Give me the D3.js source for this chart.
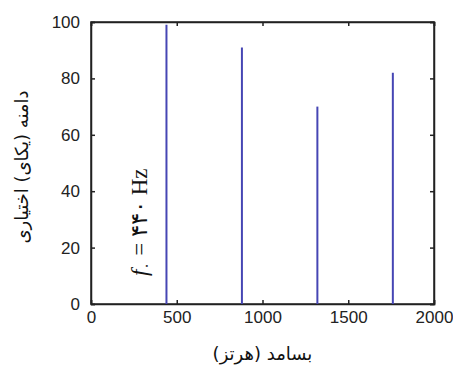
<!DOCTYPE html>
<html>
<head>
<meta charset="utf-8">
<script src="https://cdn.jsdelivr.net/npm/d3@7"></script>
<style>
  body { margin: 0; background: #fff; }
  svg { display: block; }
  .tick text { font-family: "Liberation Sans", Arial, sans-serif; font-size: 17px; fill: #222; }
  .fa { font-family: "DejaVu Sans", sans-serif; fill: #111; }
</style>
</head>
<body>
<div id="chart"></div>
<script>
// harmonics of a 440 Hz tone
const freqs = [440, 880, 1320, 1760];
const amps = [99, 91, 70, 82];
const xTicks = [0, 500, 1000, 1500, 2000];
const yTicks = [0, 20, 40, 60, 80, 100];
const xLabel = "بسامد (هرتز)";
const yLabel = "دامنه (یکای) اختیاری";

const W = 453, H = 369;
const margin = { top: 22, right: 19, bottom: 65, left: 91 };
const width = W - margin.left - margin.right,
  height = H - margin.top - margin.bottom;

const svg = d3.select("#chart").append("svg")
  .attr("width", W).attr("height", H);

const g = svg.append("g")
  .attr("transform", "translate(" + margin.left + "," + margin.top + ")");

const x = d3.scaleLinear().domain([0, 2000]).range([0, width]);
const y = d3.scaleLinear().domain([0, 100]).range([height, 0]);

// matlab style: ticks inside on all four sides
const xAxis = g.append("g")
  .attr("transform", "translate(0," + height + ")")
  .call(d3.axisBottom(x).tickValues(xTicks).tickSize(-4).tickPadding(10).tickFormat(d3.format("d")));
const yAxis = g.append("g")
  .call(d3.axisLeft(y).tickValues(yTicks).tickSize(-4).tickPadding(11));
g.append("g")
  .call(d3.axisTop(x).tickValues(xTicks).tickSize(-4).tickFormat(""));
g.append("g")
  .attr("transform", "translate(" + width + ",0)")
  .call(d3.axisRight(y).tickValues(yTicks).tickSize(-4).tickFormat(""));

g.selectAll(".domain").attr("stroke", "#222").attr("stroke-width", 1.5);
g.selectAll(".tick line").attr("stroke", "#222").attr("stroke-width", 1.5);
xAxis.selectAll(".tick text").attr("dy", "0.5em");

g.append("rect")
  .attr("width", width).attr("height", height)
  .attr("fill", "none").attr("stroke", "#222").attr("stroke-width", 1.5);

g.selectAll(".stem")
  .data(freqs)
  .enter().append("line")
  .attr("class", "stem")
  .attr("x1", (d) => x(d))
  .attr("x2", (d) => x(d))
  .attr("y1", y(0))
  .attr("y2", (d, i) => y(amps[i]))
  .attr("stroke", "#4646b4")
  .attr("stroke-width", 2);

// annotation
const ann = g.append("text")
  .attr("transform", "translate(" + (x(325)) + "," + y(29) + ") rotate(-90)")
  .attr("text-anchor", "middle")
  .style("font-family", "'Liberation Serif', 'DejaVu Serif', serif")
  .style("font-size", "23px")
  .attr("fill", "#111");
ann.append("tspan").style("font-style", "italic").text("f");
ann.append("tspan").attr("dy", 4).style("font-size", "15px").text("۰");
ann.append("tspan").attr("dy", -4).text(" = ۴۴۰ Hz");

svg.append("text")
  .attr("class", "fa")
  .attr("x", margin.left + width / 2)
  .attr("y", 360)
  .attr("text-anchor", "middle")
  .style("font-size", "18px")
  .text(xLabel);

svg.append("text")
  .attr("class", "fa")
  .attr("transform", "translate(28," + (margin.top + height / 2 + 4) + ") rotate(-90)")
  .attr("text-anchor", "middle")
  .style("font-size", "18px")
  .text(yLabel);
</script>
</body>
</html>
